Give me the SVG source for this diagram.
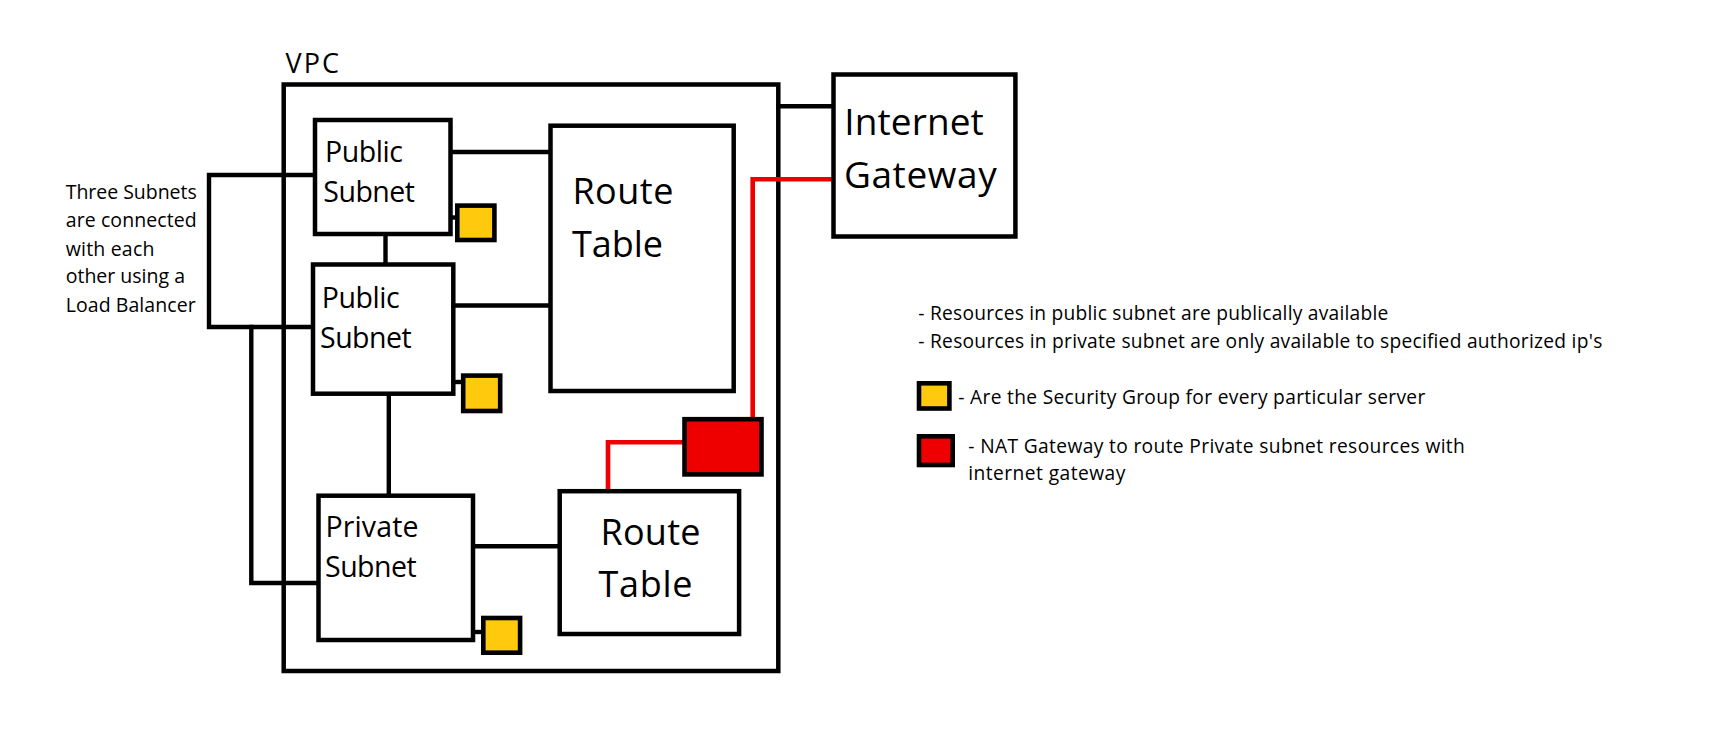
<svg xmlns="http://www.w3.org/2000/svg" width="1727" height="736" viewBox="0 0 1727 736">
<style>
.box{fill:#ffffff;stroke:#000000;stroke-width:4.5}
.frame{fill:none;stroke:#000000;stroke-width:4.5}
.sg{fill:#FFC90E;stroke:#000000;stroke-width:4.6}
.nat{fill:#EE0000;stroke:#000000;stroke-width:4.6}
.ln{fill:none;stroke:#000000;stroke-width:4.4;stroke-linecap:square}
.red{fill:none;stroke:#EE0000;stroke-width:4.6;stroke-linecap:square}
text{font-family:"Open Sans","Liberation Sans",sans-serif;fill:#000000}
.t29{font-size:28.5px}
.t34{font-size:36px}
.t36{font-size:37px}
.t20{font-size:19.5px}
.t19{font-size:19.2px}
</style>
<rect width="1727" height="736" fill="#ffffff"/>
<g id="vpc">
<rect class="frame" x="283.7" y="84.5" width="494.6" height="586.5"/>
<text x="285.5" y="73" font-size="27" textLength="53.5">VPC</text>
</g>
<g id="connectors">
<polyline class="ln" points="316,175 209,175 209,327 313,327"/>
<polyline class="ln" points="251.3,327 251.3,583 318,583"/>
<line class="ln" x1="450" y1="152" x2="551" y2="152"/>
<line class="ln" x1="453" y1="305.5" x2="551" y2="305.5"/>
<line class="ln" x1="385.5" y1="234" x2="385.5" y2="264.5"/>
<line class="ln" x1="388.8" y1="393.7" x2="388.8" y2="495.7"/>
<line class="ln" x1="473" y1="546.3" x2="559.7" y2="546.3"/>
<line class="ln" x1="778.3" y1="106.3" x2="833.5" y2="106.3"/>
<line class="ln" x1="450.5" y1="217.5" x2="457" y2="217.5"/>
<line class="ln" x1="453" y1="382" x2="463" y2="382"/>
<line class="ln" x1="473" y1="632" x2="483" y2="632"/>
<polyline class="red" points="608,491 608,442.3 684.5,442.3"/>
<polyline class="red" points="752.7,419.2 752.7,179.3 833.5,179.3"/>
</g>
<g id="public-subnet-1">
<rect class="box" x="315" y="120" width="135.5" height="114"/>
<text class="t29" x="325" y="161.7" textLength="78">Public</text>
<text class="t29" x="323.3" y="201.7" textLength="91.7">Subnet</text>
</g>
<g id="public-subnet-2">
<rect class="box" x="313" y="264.5" width="140.3" height="129.2"/>
<text class="t29" x="321.7" y="308.3" textLength="78">Public</text>
<text class="t29" x="320" y="348" textLength="91.7">Subnet</text>
</g>
<g id="private-subnet">
<rect class="box" x="318.5" y="495.7" width="154.5" height="144.3"/>
<text class="t29" x="325.5" y="536.7" textLength="93">Private</text>
<text class="t29" x="325" y="576.7" textLength="91.7">Subnet</text>
</g>
<g id="route-table-1">
<rect class="box" x="550.5" y="125.7" width="183.2" height="265.3"/>
<text class="t34" x="572.4" y="204" textLength="101">Route</text>
<text class="t34" x="572" y="256.7" textLength="91">Table</text>
</g>
<g id="route-table-2">
<rect class="box" x="559.7" y="491.2" width="179.4" height="142.8"/>
<text class="t34" x="600.5" y="545" textLength="100">Route</text>
<text class="t34" x="598.5" y="597.3" textLength="94">Table</text>
</g>
<g id="sg-1">
<rect class="sg" x="457.3" y="205.6" width="37.1" height="34.4"/>
</g>
<g id="sg-2">
<rect class="sg" x="463.2" y="375.6" width="37" height="35.4"/>
</g>
<g id="sg-3">
<rect class="sg" x="483.3" y="618" width="36.8" height="34.7"/>
</g>
<g id="nat-gateway">
<rect class="nat" x="684.5" y="419.2" width="77" height="55.2"/>
</g>
<g id="internet-gateway">
<rect class="box" x="833.5" y="74.5" width="181.9" height="162"/>
<text class="t36" x="844.3" y="135" textLength="139.5">Internet</text>
<text class="t36" x="844" y="187.7" textLength="152.7">Gateway</text>
</g>
<g id="note">
<text class="t20" x="65.7" y="199.3" textLength="131">Three Subnets</text>
<text class="t20" x="65.7" y="227.3" textLength="131">are connected</text>
<text class="t20" x="65.7" y="255.7" textLength="88.7">with each</text>
<text class="t20" x="65.7" y="283.3" textLength="119.3">other using a</text>
<text class="t20" x="65.7" y="311.7" textLength="130">Load Balancer</text>
</g>
<g id="legend">
<text class="t19" x="918.3" y="320" textLength="470">- Resources in public subnet are publically available</text>
<text class="t19" x="918.3" y="347.7" textLength="684">- Resources in private subnet are only available to specified authorized ip's</text>
<rect class="sg" x="919" y="383.3" width="30.4" height="25.2"/>
<text class="t19" x="958.3" y="404.3" textLength="467">- Are the Security Group for every particular server</text>
<rect class="nat" x="919" y="436.3" width="33.7" height="28.7"/>
<text class="t19" x="968.3" y="452.7" textLength="496.5">- NAT Gateway to route Private subnet resources with</text>
<text class="t19" x="968.3" y="480" textLength="157">internet gateway</text>
</g>
</svg>
